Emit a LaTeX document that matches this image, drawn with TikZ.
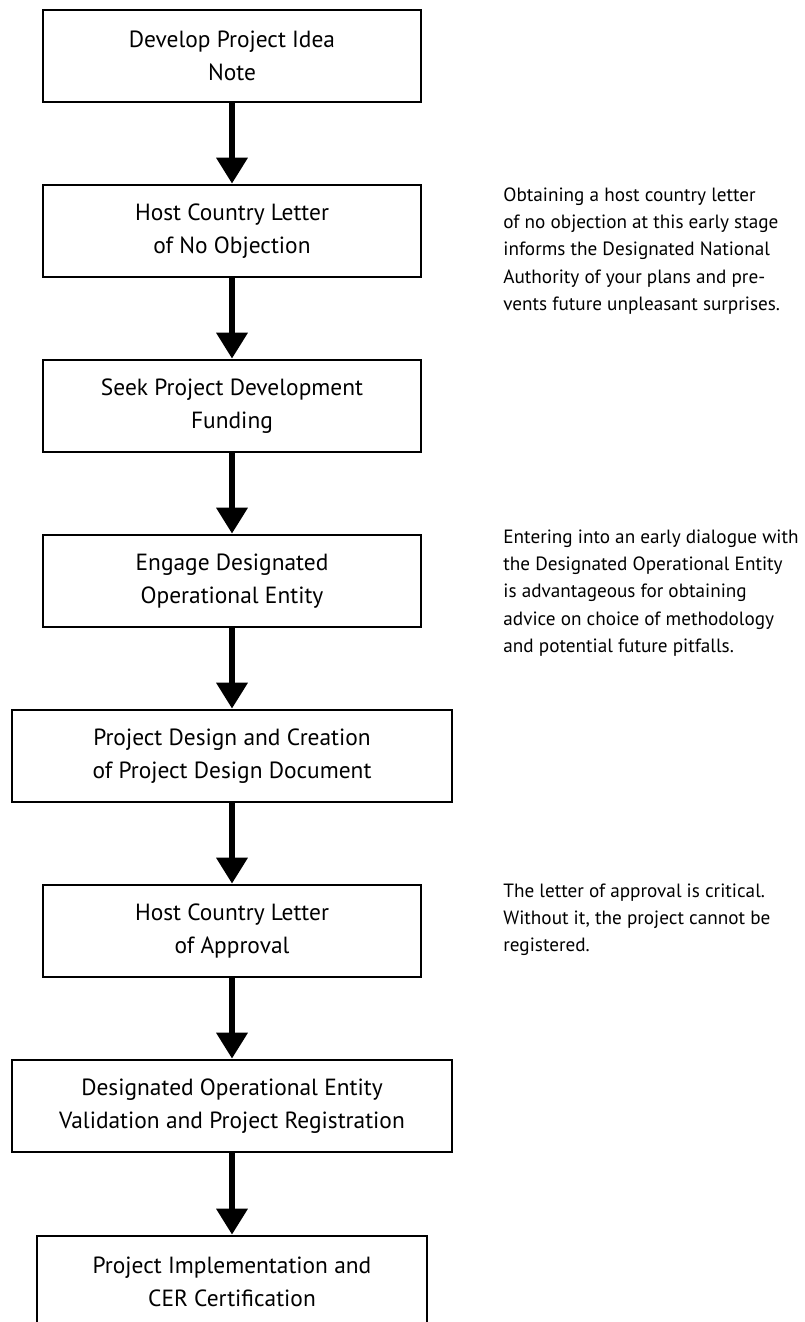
\documentclass[tikz,border=0pt]{standalone}
\usepackage{fontspec}
\setmainfont{PT Sans}
\usetikzlibrary{arrows.meta}
\tikzset{stepbox/.style={draw, line width=1.3pt, minimum width=189pt, minimum height=46pt, inner sep=0pt, align=center, font=\fontsize{11.7}{16.5}\selectfont},
  widebox/.style={stepbox, minimum width=220pt},
  flowarrow/.style={-{Triangle[width=15pt,length=13pt]}, line width=3.3pt},
  sidenote/.style={anchor=north west, inner sep=0pt, align=left, font=\fontsize{9.6}{13.7}\selectfont}}
\begin{document}
\begin{tikzpicture}[x=0.5pt,y=-0.5pt]
	\useasboundingbox (0,0) rectangle (804,1322);
	\node[stepbox] (idea) at (232,56) {Develop Project Idea\\Note};
	\node[stepbox] (noobj) at (232,231) {Host Country Letter\\of No Objection};
	\node[stepbox] (fund) at (232,406) {Seek Project Development\\Funding};
	\node[stepbox] (doe) at (232,581) {Engage Designated\\Operational Entity};
	\node[widebox] (pdd) at (232,756) {Project Design and Creation\\of Project Design Document};
	\node[stepbox] (approval) at (232,931) {Host Country Letter\\of Approval};
	\node[widebox] (valid) at (232,1106) {Designated Operational Entity\\Validation and Project Registration};
	\node[stepbox, minimum width=195pt] (cer) at (232,1282) {Project Implementation and\\CER Certification};
	\foreach \a/\b in {idea/noobj,noobj/fund,fund/doe,doe/pdd,pdd/approval,approval/valid,valid/cer}
		\draw[flowarrow] (\a.south) -- (\b.north);
	\node[sidenote] (noobjnote) at (503,187) {Obtaining a host country letter\\of no objection at this early stage\\informs the Designated National\\Authority of your plans and pre-\\vents future unpleasant surprises.};
	\node[sidenote] (doenote) at (503,529) {Entering into an early dialogue with\\the Designated Operational Entity\\is advantageous for obtaining\\advice on choice of methodology\\and potential future pitfalls.};
	\node[sidenote] (approvalnote) at (503,883) {The letter of approval is critical.\\Without it, the project cannot be\\registered.};
\end{tikzpicture}
\end{document}
